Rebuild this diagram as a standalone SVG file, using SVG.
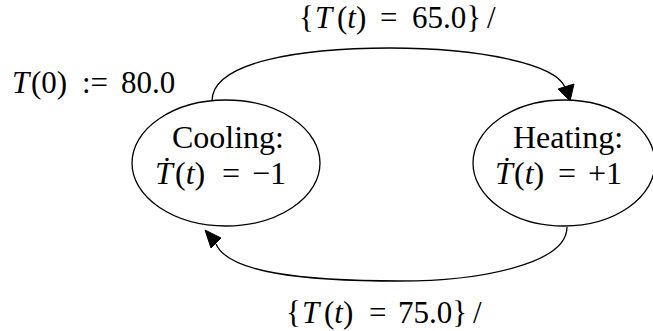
<svg xmlns="http://www.w3.org/2000/svg" width="653" height="331" viewBox="0 0 653 331">
<style>
  text { font-family: "Liberation Serif", "Times New Roman", serif; fill: #000; }
  .lbl { font-size: 31px; }
  .node-text { font-size: 32px; }
  .it { font-style: italic; }
  .shape { fill: #fff; stroke: #000; stroke-width: 1.3; }
  .edge { fill: none; stroke: #000; stroke-width: 1.3; }
  .head { fill: #000; stroke: #000; stroke-width: 1; stroke-linejoin: miter; }
</style>
<rect width="653" height="331" fill="#fff"/>
<g id="connectors">
  <path class="edge" d="M212,101 C212,62 300,48 390,48 C480,48 555,64 565,87"/>
  <polygon class="head" points="570,101 558,89 574,84"/>
  <path class="edge" d="M567,227 C567,264 480,281 400,281 C300,281 228,272 216,244"/>
  <polygon class="head" points="205,230 221,238 211,248"/>
</g>
<g id="init-label">
  <text class="lbl" y="93"><tspan x="12" class="it">T</tspan><tspan x="31">(0)</tspan><tspan x="82">:=</tspan><tspan x="121">80.0</tspan></text>
</g>
<g id="edge-label-top">
  <text class="lbl" y="28"><tspan x="299">{</tspan><tspan x="315" class="it">T</tspan><tspan x="337">(</tspan><tspan class="it">t</tspan><tspan>)</tspan><tspan x="380">=</tspan><tspan x="412">65.0}</tspan><tspan x="487">/</tspan></text>
</g>
<g id="edge-label-bottom">
  <text class="lbl" y="323"><tspan x="286">{</tspan><tspan x="302" class="it">T</tspan><tspan x="324">(</tspan><tspan class="it">t</tspan><tspan>)</tspan><tspan x="369">=</tspan><tspan x="398">75.0}</tspan><tspan x="473">/</tspan></text>
</g>
<g id="cooling">
  <ellipse class="shape" cx="226" cy="163" rx="94" ry="63"/>
  <text class="node-text" x="228" y="148" text-anchor="middle">Cooling:</text>
  <text class="node-text" y="184"><tspan x="155" class="it">Ṫ</tspan><tspan x="175">(</tspan><tspan class="it">t</tspan><tspan>)</tspan><tspan x="222">=</tspan><tspan x="252">−1</tspan></text>
</g>
<g id="heating">
  <ellipse class="shape" cx="564" cy="163" rx="91" ry="63"/>
  <text class="node-text" x="568" y="148" text-anchor="middle">Heating:</text>
  <text class="node-text" y="184"><tspan x="495" class="it">Ṫ</tspan><tspan x="514">(</tspan><tspan class="it">t</tspan><tspan>)</tspan><tspan x="558">=</tspan><tspan x="588">+1</tspan></text>
</g>
</svg>
